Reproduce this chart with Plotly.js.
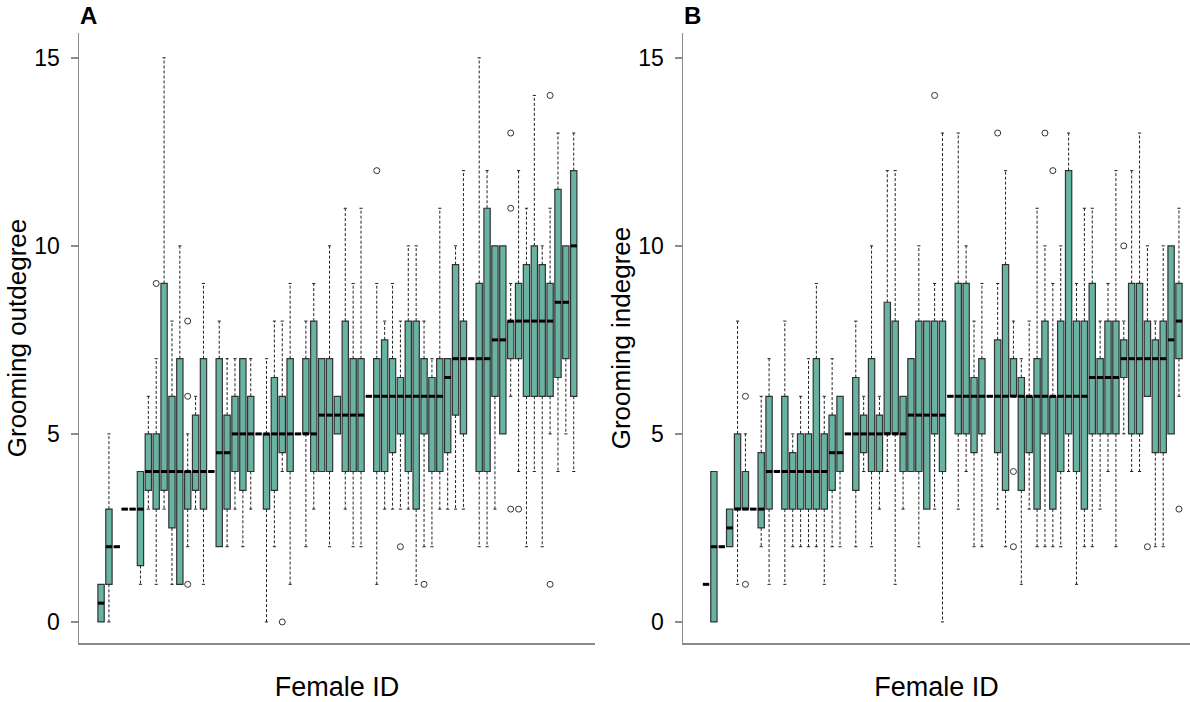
<!DOCTYPE html>
<html>
<head>
<meta charset="utf-8">
<script src="https://cdn.plot.ly/plotly-3.0.1.min.js"></script>
<style>html,body{margin:0;padding:0;background:#fff;}#chart{width:1190px;height:702px;}</style>
</head>
<body>
<div id="chart"></div>
<script>
// ---------- Panel A: Grooming outdegree (61 females) ----------
const A_lo  = [0,0,2,3,3,1,3,1,3,1,1,2,3,1,4,2,2,3,2,3,5,0,2,4,1,5,2,3,4,2,5,3,2,2,6,1,3,3,3,3,1,2,2,3,3,3,3,7,2,2,3,5,6,4,2,4,2,5,4,5,4];
const A_q1  = [0,1,2,3,3,1.5,3.5,3,3.5,2.5,1,3,3.5,3,4,2,3,4,3.5,4,5,3,3.5,4.5,4,5,5,4,4,4,5,4,4,4,6,4,4,4.5,5,4,3,5,4,4,4.5,5.5,5,7,4,4,6,5,7,7,6,6,6,6,6.5,7,6];
const A_med = [0.5,2,2,3,3,3,4,4,4,4,4,4,4,4,4,4.5,4.5,5,5,5,5,5,5,5,5,5,5,5,5.5,5.5,5.5,5.5,5.5,5.5,6,6,6,6,6,6,6,6,6,6,6.5,7,7,7,7,7,7.5,7.5,8,8,8,8,8,8,8.5,8.5,10];
const A_q3  = [1,3,2,3,3,4,5,5,9,6,7,4,5.5,7,4,7,5.5,6,7,6,5,5,6.5,6,7,5,7,8,7,7,6,8,7,7,6,7,7.5,7,6.5,8,8,7,6.5,7,7,9.5,8,7,9,11,10,10,8,9,9.5,10,9.5,9,11.5,10,12];
const A_hi  = [1,5,2,3,3,4,6,7,15,8,10,5,6,9,4,8,7,7,7,7,5,7,8,8,9,5,8,9,7,10,6,11,9,11,6,9,8,9,8,10,10,8,7,11,7,10,12,7,15,12,10,10,9,12,11,14,10,11,13,10,13];
const A_outFemale = [8,12,12,12,24,36,39,42,53,53,53,54,58,58];
const A_outValue  = [9,6,8,1,0,12,2,1,13,11,3,3,14,1];

// ---------- Panel B: Grooming indegree (61 females) ----------
const B_lo  = [1,0,2,2,1,3,3,2,1,4,1,2,2,2,2,1,2,2,5,2,4,2,3,4,1,3,4,2,3,3,0,6,3,4,2,2,6,3,2,6,1,3,2,2,2,2,4,1,2,2,3,4,2,5,4,4,6,2,2,5,6];
const B_q1  = [1,0,2,2,3,3,3,2.5,3,4,3,3,3,3,3,3,3.5,4,5,3.5,4.5,4,4,5,5,4,4,4,3,5,4,6,5,5,4.5,5,6,4.5,3.5,6,3.5,4.5,3,5,3,4,5,4,3,5,5,5,5,6.5,5,5,6,4.5,4.5,5,7];
const B_med = [1,2,2,2.5,3,3,3,3,4,4,4,4,4,4,4,4,4.5,4.5,5,5,5,5,5,5,5,5,5.5,5.5,5.5,5.5,5.5,6,6,6,6,6,6,6,6,6,6,6,6,6,6,6,6,6,6,6.5,6.5,6.5,6.5,7,7,7,7,7,7,7.5,8];
const B_q3  = [1,4,2,3,5,4,3,4.5,6,4,6,4.5,5,5,7,5,5.5,6,5,6.5,5.5,7,5.5,8.5,8,6,7,8,8,8,8,6,9,9,6.5,7,6,7.5,9.5,7,6.5,6,7,8,6,8,12,8,8,9,7,8,8,7.5,9,9,8,7.5,8,10,9];
const B_hi  = [1,4,2,3,8,5,3,6,7,4,8,5,6,7,9,6,7,6,5,8,6,10,6,12,12,6,7,10,8,9,13,6,13,10,8,9,6,9,12,8,7,8,11,10,9,10,13,9,11,11,8,9,12,8,12,13,10,8,10,10,11];
const B_outFemale = [6,6,30,38,40,40,44,45,54,57,61];
const B_outValue  = [6,1,14,13,4,2,13,12,10,2,3];

const FILL = '#69b3a2';
const EDGE = '#333333';
const AXC = '#8a8a8a';
const FONT = 'Liberation Sans, Arial, sans-serif';

function ids(n){ const a=[]; for(let i=1;i<=n;i++) a.push(i); return a; }

function panelTraces(lo,q1,med,q3,hi,outX,outY,xa,ya){
  const pos = ids(med.length);
  const wx=[], wy=[], cx=[], cy=[], mx=[], my=[];
  pos.forEach((p,i)=>{
    if(hi[i]>q3[i]){ wx.push(p,p,null); wy.push(q3[i],hi[i],null); cx.push(p-0.2,p+0.2,null); cy.push(hi[i],hi[i],null); }
    if(lo[i]<q1[i]){ wx.push(p,p,null); wy.push(q1[i],lo[i],null); cx.push(p-0.2,p+0.2,null); cy.push(lo[i],lo[i],null); }
    mx.push(p-0.4,p+0.4,null); my.push(med[i],med[i],null);
  });
  return [
    {type:'scatter',mode:'lines',x:wx,y:wy,xaxis:xa,yaxis:ya,line:{color:'#222',width:1,dash:'3px,2px'},hoverinfo:'skip',showlegend:false},
    {type:'scatter',mode:'lines',x:cx,y:cy,xaxis:xa,yaxis:ya,line:{color:'#222',width:1},hoverinfo:'skip',showlegend:false},
    {type:'box',x:pos,q1:q1,median:med,q3:q3,lowerfence:q1,upperfence:q3,width:0.8,whiskerwidth:0,
     fillcolor:FILL,line:{color:EDGE,width:1.2},boxpoints:false,xaxis:xa,yaxis:ya,hoverinfo:'skip',showlegend:false},
    {type:'scatter',mode:'lines',x:mx,y:my,xaxis:xa,yaxis:ya,line:{color:'#000',width:3},hoverinfo:'skip',showlegend:false},
    {type:'scatter',mode:'markers',x:outX,y:outY,xaxis:xa,yaxis:ya,marker:{symbol:'circle-open',size:6,color:'#333',line:{width:1}},hoverinfo:'skip',showlegend:false}
  ];
}

const data = [].concat(
  panelTraces(A_lo,A_q1,A_med,A_q3,A_hi,A_outFemale,A_outValue,'x','y'),
  panelTraces(B_lo,B_q1,B_med,B_q3,B_hi,B_outFemale,B_outValue,'x2','y2')
);

const W=1190,H=702;
const ydom=[(H-643)/H,(H-33)/H];
function xax(dom,range){
  return {domain:dom,range:range,showline:true,linecolor:AXC,linewidth:1.5,showgrid:false,zeroline:false,
    showticklabels:false,ticks:'',title:{text:'Female ID',font:{family:FONT,size:27,color:'#000'},standoff:34},automargin:false};
}
function yax(title,anchor){
  return {domain:ydom,range:[-0.56,15.66],tickvals:[0,5,10,15],ticktext:['0','5','10','15'],ticks:'outside',ticklen:7,
    tickcolor:AXC,tickwidth:1.5,showline:true,linecolor:AXC,linewidth:1.5,showgrid:false,zeroline:false,anchor:anchor,
    tickfont:{family:FONT,size:23,color:'#000'},ticklabelstandoff:6,
    title:{text:title,font:{family:FONT,size:26,color:'#000'},standoff:0},automargin:false};
}

const layout = {
  width:W,height:H,margin:{l:0,r:0,t:0,b:0},paper_bgcolor:'#fff',plot_bgcolor:'#fff',showlegend:false,
  xaxis:Object.assign(xax([79/W,595/W],[-1.8,63.7]),{anchor:'y'}),
  yaxis:yax('Grooming outdegree','x'),
  xaxis2:Object.assign(xax([683/W,1],[-1.92,62.4]),{anchor:'y2'}),
  yaxis2:yax('Grooming indegree','x2'),
  annotations:[
    {text:'<b>A</b>',xref:'paper',yref:'paper',x:78/W,y:(H-31)/H,xanchor:'left',yanchor:'bottom',showarrow:false,font:{family:FONT,size:24,color:'#000'}},
    {text:'<b>B</b>',xref:'paper',yref:'paper',x:682/W,y:(H-31)/H,xanchor:'left',yanchor:'bottom',showarrow:false,font:{family:FONT,size:24,color:'#000'}}
  ]
};

Plotly.newPlot('chart',data,layout,{displayModeBar:false,staticPlot:true});
</script>
</body>
</html>
